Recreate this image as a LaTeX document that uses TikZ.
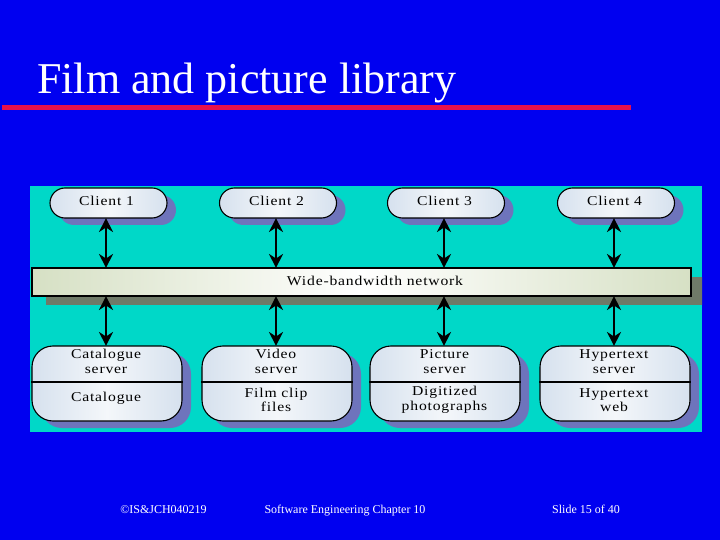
\documentclass[tikz,border=0pt]{standalone}
\usepackage{fontspec}
\setmainfont{Liberation Serif}
\usetikzlibrary{arrows.meta,shadows,calc}
\definecolor{slidebg}{HTML}{0000F0}
\definecolor{panelbg}{HTML}{00D8C8}
\definecolor{boxshadow}{HTML}{6E74BC}
\definecolor{netshadow}{HTML}{6F7A68}
\definecolor{boxedge}{HTML}{D6E1EE}
\definecolor{boxmid}{HTML}{F4F7FA}
\definecolor{netedge}{HTML}{D6E0C4}
\definecolor{rulered}{HTML}{E8104C}
\tikzset{
  x=1pt,y=-1pt,
  clientbox/.style={draw=black,line width=1.1pt,rounded corners=15pt,minimum width=117pt,minimum height=30pt,inner sep=0pt,
    left color=boxedge,right color=boxedge,middle color=boxmid,
    general shadow={fill=boxshadow,shadow xshift=9pt,shadow yshift=-7pt}},
  serverbox/.style={draw=black,line width=1.1pt,rounded corners=21pt,minimum width=150pt,minimum height=75pt,inner sep=0pt,
    left color=boxedge,right color=boxedge,middle color=boxmid,
    general shadow={fill=boxshadow,shadow xshift=9pt,shadow yshift=-7pt}},
  netbox/.style={draw=black,line width=1.1pt,minimum width=659pt,minimum height=28pt,inner sep=0pt,
    left color=netedge,right color=netedge,middle color=white,
    general shadow={fill=netshadow,shadow xshift=14pt,shadow yshift=-9pt}},
  lbl/.style={font=\fontsize{13.5}{14.7}\selectfont\addfontfeatures{FakeStretch=1.16,LetterSpace=6},text=black,align=center,inner sep=0pt},
  foot/.style={font=\fontsize{12}{14}\selectfont,text=white,inner sep=0pt,anchor=base},
  link/.style={line width=2pt,{Stealth[length=14pt,width=14pt]}-{Stealth[length=14pt,width=14pt]},shorten <=-0.5pt,shorten >=-0.5pt}
}
\begin{document}
\begin{tikzpicture}
\useasboundingbox (0,0) rectangle (720,540);
\fill[slidebg] (0,0) rectangle (720,540);
\node[font=\fontsize{44}{50}\selectfont,text=white,anchor=base west,inner sep=0pt] (title) at (37,94) {Film and picture library};
\coordinate (rulea) at (2,107.5);
\coordinate (ruleb) at (631,107.5);
\draw[rulered,line width=4.5pt] (rulea) -- (ruleb);
\fill[panelbg] (30,186) rectangle (702,432);
% network
\begin{scope}
\clip (30,186) rectangle (702,432);
\node[netbox] (net) at (361.5,282) {};
\end{scope}
\node[lbl] (netlabel) at (375,280.5) {Wide-bandwidth network};
% clients
\node[clientbox] (c1) at (108.5,203) {};
\node[clientbox] (c2) at (278,203) {};
\node[clientbox] (c3) at (446,203) {};
\node[clientbox] (c4) at (616,203) {};
\node[lbl] at (106.5,200.5) {Client 1};
\node[lbl] at (276.5,200.5) {Client 2};
\node[lbl] at (444.5,200.5) {Client 3};
\node[lbl] at (614.5,200.5) {Client 4};
% servers
\node[serverbox] (s1) at (107,383.5) {};
\node[serverbox] (s2) at (277,383.5) {};
\node[serverbox] (s3) at (445,383.5) {};
\node[serverbox] (s4) at (615,383.5) {};
\foreach \s in {s1,s2,s3,s4}{
  \draw[black,line width=1.1pt] ($(\s.west)+(0,-1.5)$) -- ($(\s.east)+(0,-1.5)$);
}
\node[lbl] at (106,361.5) {Catalogue\\server};
\node[lbl] at (106,398.5) {Catalogue};
\node[lbl] at (276,361.5) {Video\\server};
\node[lbl] at (276,400) {Film clip\\files};
\node[lbl] at (444.5,361.5) {Picture\\server};
\node[lbl] at (444.5,400) {Digitized\\photographs};
\node[lbl] at (614,361.5) {Hypertext\\server};
\node[lbl] at (614,400) {Hypertext\\web};
% connectors
\foreach \c/\s in {c1/s1,c2/s2,c3/s3,c4/s4}{
  \coordinate (bot) at ($(\s.north)+(-1,0)$);
  \coordinate (top) at (bot |- \c.south);
  \draw[link] (top) -- (top |- net.north);
  \draw[link] (bot |- net.south) -- (bot);
}
% footer
\node[foot] (f1) at (163.5,513) {©IS\&JCH040219};
\node[foot] (f2) at (345,513) {Software Engineering Chapter 10};
\node[foot] (f3) at (586,513) {Slide 15 of 40};
\end{tikzpicture}
\end{document}
